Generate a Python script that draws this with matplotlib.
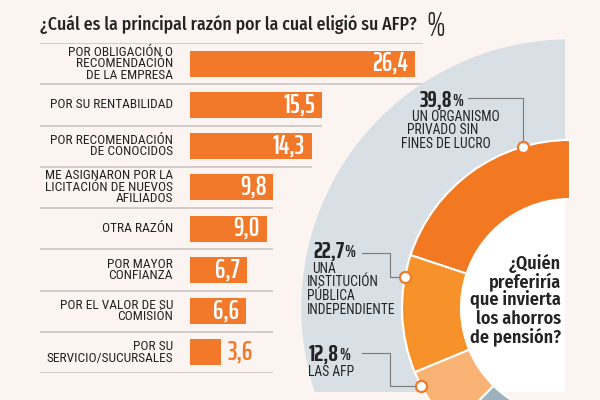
import numpy as np
import matplotlib.pyplot as plt
from matplotlib.patches import Circle

# bar chart data
razones = ['POR OBLIGACIÓN O\nRECOMENDACIÓN\nDE LA EMPRESA',
           'POR SU RENTABILIDAD',
           'POR RECOMENDACIÓN\nDE CONOCIDOS',
           'ME ASIGNARON POR LA\nLICITACIÓN DE NUEVOS\nAFILIADOS',
           'OTRA RAZÓN',
           'POR MAYOR\nCONFIANZA',
           'POR EL VALOR DE SU\nCOMISIÓN',
           'POR SU\nSERVICIO/SUCURSALES']
valores = [26.4, 15.5, 14.3, 9.8, 9.0, 6.7, 6.6, 3.6]

# donut data (half donut = 100 %)
quien = ['UN ORGANISMO\nPRIVADO SIN\nFINES DE LUCRO',
         'UNA\nINSTITUCIÓN\nPÚBLICA\nINDEPENDIENTE',
         'LAS AFP',
         'OTROS']
quien_pct = [39.8, 22.7, 12.8, 24.7]
pregunta = ['¿Quién', 'preferiría', 'que invierta', 'los ahorros', 'de pensión?']

BG = '#fcf4f1'
ORANGE = '#f2792a'
DARK = '#232323'
COND = ['Roboto Condensed', 'DejaVu Sans']
TITLE = ['Fira Sans Condensed', 'DejaVu Sans']
NUM = ['Saira ExtraCondensed', 'DejaVu Sans']
W, H = 600, 400

fig = plt.figure(figsize=(6, 4), dpi=100, facecolor=BG)

def px_box(x0, y0, x1, y1):
    # pixel box (top-left origin) -> figure fraction rect
    return [x0 / W, 1 - y1 / H, (x1 - x0) / W, (y1 - y0) / H]

# ---------------- bars ----------------
scale = 8.52            # pixels per percent
x0_px = 190
ax = fig.add_axes(px_box(0, 43, 600, 373))
ax.set_facecolor('none')
ax.set_xlim(-x0_px / scale, (W - x0_px) / scale)
ax.set_ylim(len(valores) - 0.5, -0.5)
ax.axis('off')

y = np.arange(len(valores))
ax.barh(y, valores, height=0.63, color=ORANGE, zorder=2)

# separators
ends = []
for i in range(-1, len(valores)):
    nb = [valores[j] for j in (i, i + 1) if 0 <= j < len(valores)]
    e = max(max(nb), 9.8)
    ends.append(e + 0.9 if e > 20 else e)
ax.hlines(np.arange(-0.5, len(valores)), -150 / scale, ends,
          color='#c4c0bf', lw=1.1, zorder=1)

for i, (lab, v) in enumerate(zip(razones, valores)):
    ax.annotate(lab, (0, i), xytext=(-17, 0), textcoords='offset pixels',
                ha='right', va='center', fontsize=9.6, color=DARK,
                family=COND, linespacing=0.85)
    txt = f'{v:.1f}'.replace('.', ',')
    if v > 5:
        ax.annotate(txt, (v, i), xytext=(-7, 0), textcoords='offset pixels',
                    ha='right', va='center', fontsize=19, color='white',
                    family=NUM, fontweight=600)
    else:
        ax.annotate(txt, (v, i), xytext=(7, 0), textcoords='offset pixels',
                    ha='left', va='center', fontsize=19, color=ORANGE,
                    family=NUM, fontweight=600)

fig.text(40 / W, 1 - 25 / H, '¿Cuál es la principal razón por la cual eligió su AFP?',
         ha='left', va='center', fontsize=12.8, color=DARK, family=TITLE,
         fontweight=500)
fig.text(426 / W, 1 - 27 / H, '%', ha='left', va='center', fontsize=25,
         color=DARK, family=NUM, fontweight=300)

# ---------------- half donut ----------------
cx, cy = 570, 308
R, r = 168, 109
pax = fig.add_axes(px_box(280, 30, 565, 392))
pax.set_facecolor('none')

pax.add_patch(Circle((0, 0), 268, color='#d8e0e6', zorder=0))
cols = ['#f27822', '#f7922a', '#f8b274', '#9fb1bf']
wedges, _ = pax.pie(quien_pct + [sum(quien_pct)], radius=R, startangle=90,
                    counterclock=True,
                    colors=cols + ['none'],
                    wedgeprops=dict(width=R - r, edgecolor='white', linewidth=1.5))
wedges[-1].set_edgecolor('none')
pax.add_patch(Circle((0, 0), r - 0.5, color='white', zorder=0.5))
pax.set_aspect('auto')
pax.set_xlim(280 - cx, 565 - cx)
pax.set_ylim(cy - 392, cy - 30)
pax.axis('off')

# markers with leader lines (leader path given in pixels)
frac = [0.226, 0.19, 0.22]
leaders = [[(None, 98), (468, 98)],
           [(390, None), (390, 253), (362, 253)],
           [(390, None), (390, 353), (362, 353)]]
start = 90
for k in range(3):
    ang = np.radians(start + 1.8 * quien_pct[k] * frac[k])
    start += 1.8 * quien_pct[k]
    mx, my = R * np.cos(ang), R * np.sin(ang)
    lx, ly = [mx], [my]
    for px_, py_ in leaders[k]:
        lx.append(mx if px_ is None else px_ - cx)
        ly.append(my if py_ is None else cy - py_)
    pax.plot(lx, ly, color='#7a7a7a', lw=0.8, zorder=3, clip_on=False)
    pax.plot(mx, my, 'o', ms=8, mfc='white', mec=ORANGE, mew=1.6, zorder=4)

label_pos = [(420, 101), (313, 252), (309, 355)]
for k, (px_, py_) in enumerate(label_pos):
    pct = f'{quien_pct[k]:.1f}'.replace('.', ',')
    t = pax.text(px_ - cx, cy - py_, pct, ha='left', va='center', fontsize=17,
                 fontweight='bold', family=NUM, color=DARK)
    pax.annotate('%', xy=(1.0, 0.12), xycoords=t, ha='left', va='bottom',
                 fontsize=12, fontweight='bold', family=NUM, color=DARK)

# sub labels, lines shifted to follow the curve
sub_x = [[412, 407, 401], [312, 307, 307, 307], [308]]
sub_y = [[117, 130, 143.5], [269, 282.5, 296, 309.5], [372]]
for k in range(3):
    for line, sx, sy in zip(quien[k].split('\n'), sub_x[k], sub_y[k]):
        pax.text(sx - cx, cy - sy, line, ha='left', va='center', fontsize=9.8,
                 family=COND, color=DARK)

q_y = [263, 282, 300, 319, 337]
for line, qy in zip(pregunta, q_y):
    pax.text(561 - cx, cy - qy, line, ha='right', va='center', fontsize=13,
             fontweight=600, family=TITLE, color=DARK)

fig.savefig('out.png', dpi=100, facecolor=BG)
